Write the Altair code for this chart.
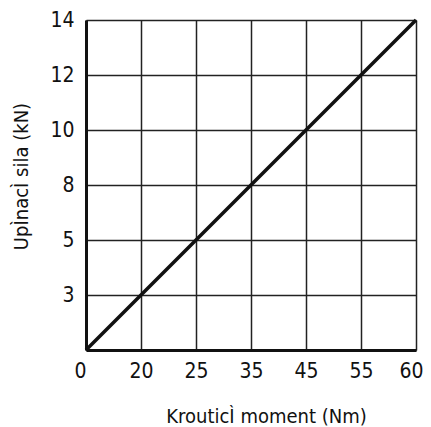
import altair as alt
import pandas as pd
import json

torque = [0, 20, 25, 35, 45, 55, 60]   # Nm (x tick labels)
force = [0, 3, 5, 8, 10, 12, 14]       # kN (y tick labels)
y_label_text = ["", "3", "5", "8", "10", "12", "14"]

idx = list(range(len(torque)))
df = pd.DataFrame({"i": idx, "torque": torque, "force": force})

x_lab = json.dumps([str(t) for t in torque])
y_lab = json.dumps(y_label_text)

FONT = "Liberation Sans Narrow, Arial Narrow, DejaVu Sans Condensed, sans-serif"

chart = alt.Chart(df).mark_line(color="#111111", strokeWidth=3.5).encode(
    x=alt.X("i:Q",
            scale=alt.Scale(domain=[0, 6], nice=False, zero=False),
            axis=alt.Axis(values=idx, labelExpr=f"{x_lab}[datum.value]",
                          title="KrouticÌ moment (Nm)", grid=True,
                          gridColor="#222222", gridWidth=1.5, gridOpacity=1,
                          domainColor="#111111", domainWidth=3,
                          ticks=False, labelPadding=10, labelFontSize=21,
                          labelFlush=False,
                          labelAlign=alt.condition("datum.value == 0",
                                                   alt.value("right"),
                                                   alt.value("center")),
                          labelOffset=alt.condition("datum.value == 6",
                                                    alt.value(-5),
                                                    alt.value(0)),
                          labelColor="#111", titleFontSize=20, titleColor="#111",
                          titleFontWeight="normal", titlePadding=25, titleX=180,
                          labelFont=FONT, titleFont=FONT)),
    y=alt.Y("i:Q",
            scale=alt.Scale(domain=[0, 6], nice=False, zero=False),
            axis=alt.Axis(values=idx, labelExpr=f"{y_lab}[datum.value]",
                          title="UpÌnacÌ sila (kN)", grid=True,
                          gridColor="#222222", gridWidth=1.5, gridOpacity=1,
                          domainColor="#111111", domainWidth=3,
                          ticks=False, labelPadding=12, labelFontSize=21,
                          labelColor="#111", titleFontSize=20, titleColor="#111",
                          titleFontWeight="normal", titlePadding=18, titleY=156,
                          labelFont=FONT, titleFont=FONT)),
).properties(
    width=330, height=330,
    autosize=alt.AutoSizeParams(type="none"),
    padding={"left": 78, "top": 12, "right": 7, "bottom": 77},
).configure_view(stroke=None).configure(background="white")

chart.save("out.html", embed_options={"renderer": "svg", "actions": False})
